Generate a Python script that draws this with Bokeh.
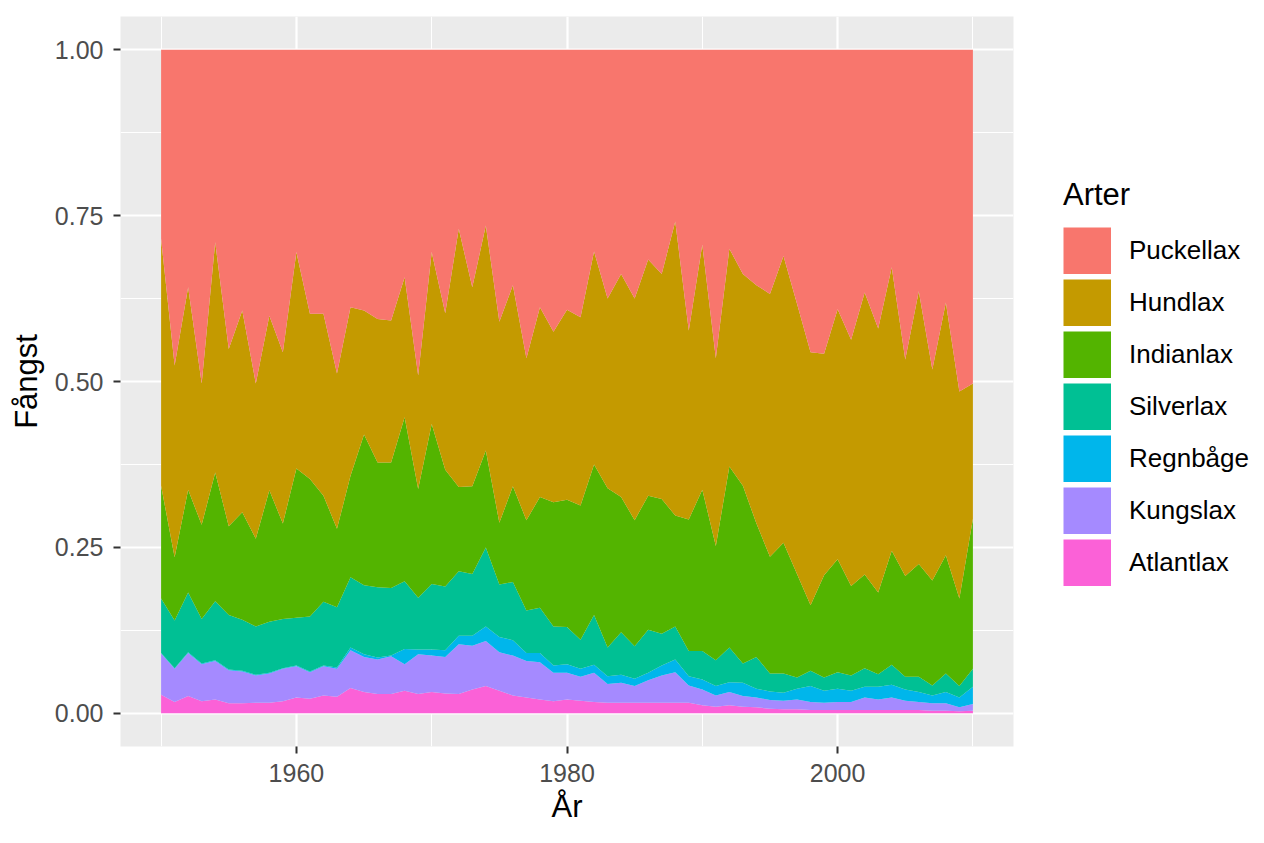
from bokeh.plotting import figure
from bokeh.models import ColumnDataSource, Range1d, FixedTicker, NumeralTickFormatter, Legend, LegendItem
from bokeh.embed import file_html
from bokeh.resources import INLINE

years = list(range(1950, 2011))

atlantlax = [.028, .017, .026, .018, .021, .015, .015, .016, .016, .018,
             .024, .022, .027, .025, .038, .032, .029, .029, .034, .029,
             .032, .030, .029, .036, .041, .034, .027, .024, .021, .018,
             .021, .019, .017, .016, .016, .016, .016, .016, .016, .016,
             .012, .010, .012, .010, .009, .007, .006, .006, .005, .005,
             .005, .005, .005, .005, .005, .005, .005, .004, .004, .003, .004]
kungslax = [.062, .050, .065, .056, .058, .050, .048, .041, .044, .049,
            .047, .040, .044, .042, .057, .053, .052, .057, .040, .060,
            .055, .055, .075, .066, .068, .058, .060, .055, .056, .043,
            .040, .036, .044, .028, .030, .025, .034, .041, .046, .026,
            .024, .017, .020, .016, .015, .013, .013, .015, .012, .011,
            .012, .012, .019, .016, .019, .014, .012, .011, .011, .006, .010]
regnbage = [.001, .001, .001, .001, .001, .001, .001, .001, .001, .001,
            .001, .001, .001, .002, .004, .004, .003, .001, .023, .007,
            .009, .010, .013, .015, .022, .023, .023, .012, .014, .011,
            .013, .012, .012, .012, .012, .011, .011, .015, .019, .014,
            .015, .014, .015, .020, .013, .013, .012, .016, .024, .018,
            .020, .017, .016, .019, .019, .017, .015, .012, .017, .015, .026]
silverlax = [.082, .072, .090, .067, .089, .082, .077, .073, .077, .074,
             .072, .083, .096, .091, .106, .104, .106, .102, .102, .078,
             .099, .096, .097, .093, .119, .079, .088, .064, .068, .059,
             .056, .044, .075, .043, .064, .049, .065, .048, .050, .038,
             .043, .039, .052, .029, .048, .027, .029, .017, .023, .020,
             .025, .023, .028, .019, .030, .019, .023, .015, .028, .017, .027]
indianlax = [.170, .095, .155, .142, .194, .134, .162, .132, .198, .144,
             .225, .207, .160, .118, .153, .227, .188, .189, .247, .164,
             .241, .176, .127, .132, .146, .093, .144, .136, .167, .187,
             .192, .202, .227, .240, .204, .190, .202, .203, .167, .198,
             .243, .172, .273, .268, .201, .176, .197, .156, .099, .154,
             .170, .135, .141, .123, .172, .152, .170, .158, .178, .132, .226]
hundlax = [.372, .289, .305, .213, .347, .267, .304, .234, .263, .258,
           .326, .249, .274, .234, .254, .187, .216, .214, .211, .171,
           .259, .236, .389, .300, .339, .303, .303, .244, .286, .257,
           .286, .284, .321, .286, .336, .334, .356, .339, .443, .285,
           .369, .283, .328, .319, .359, .396, .432, .407, .381, .334,
           .377, .371, .425, .398, .427, .326, .411, .318, .381, .312, .204]
puckellax = [.285, .476, .358, .503, .290, .451, .393, .503, .401, .456,
             .305, .398, .398, .488, .388, .393, .406, .408, .343, .491,
             .305, .397, .270, .358, .265, .410, .355, .465, .388, .425,
             .392, .403, .304, .375, .338, .375, .316, .338, .259, .423,
             .294, .465, .300, .338, .355, .368, .311, .383, .456, .458,
             .391, .437, .366, .420, .328, .467, .364, .482, .381, .515, .503]

species = ["Atlantlax", "Kungslax", "Regnbåge", "Silverlax", "Indianlax", "Hundlax", "Puckellax"]
keys = ["atl", "kung", "regn", "silv", "ind", "hund", "puck"]
series = [atlantlax, kungslax, regnbage, silverlax, indianlax, hundlax, puckellax]
colors = ["#FB61D7", "#A58AFF", "#00B6EB", "#00C094", "#53B400", "#C49A00", "#F8766D"]

x_ticks = [1960, 1980, 2000]
x_minor = [1950, 1970, 1990, 2010]
y_ticks = [0.0, 0.25, 0.5, 0.75, 1.0]
y_minor = [0.125, 0.375, 0.625, 0.875]

# position = "fill": normalise each year to 1
totals = [sum(s[i] for s in series) for i in range(len(years))]
data = {"year": years}
for k, s in zip(keys, series):
    data[k] = [v / t for v, t in zip(s, totals)]
source = ColumnDataSource(data)

FONT = "Liberation Sans"

p = figure(frame_width=893, frame_height=730, output_backend="svg", toolbar_location=None,
           x_range=Range1d(1947, 2013), y_range=Range1d(-0.05, 1.05),
           min_border_left=120, min_border_right=0, min_border_top=16, min_border_bottom=81)
p.background_fill_color = "#EBEBEB"
p.border_fill_color = "white"
p.outline_line_color = None

renderers = p.varea_stack(stackers=keys, x="year", color=colors, source=source)

# full-size square legend keys: thick line renderers whose only segment lies outside the visible ranges
key_renderers = [p.line(x=[1900, 1901], y=[-5, -5], line_width=47, line_color=c, line_cap="butt")
                 for c in colors]

for ax in (p.xaxis[0], p.yaxis[0]):
    ax.axis_line_color = None
    ax.major_tick_line_color = "#333333"
    ax.major_tick_line_width = 2
    ax.major_tick_out = 7
    ax.major_tick_in = 0
    ax.minor_tick_line_color = None
    ax.major_label_text_font = FONT
    ax.major_label_text_font_size = "25px"
    ax.major_label_text_color = "#4D4D4D"
    ax.axis_label_text_font = FONT
    ax.axis_label_text_font_size = "31px"
    ax.axis_label_text_font_style = "normal"
    ax.axis_label_text_color = "black"
    ax.major_label_standoff = 10

p.xaxis.ticker = FixedTicker(ticks=x_ticks, minor_ticks=x_minor)
p.yaxis.ticker = FixedTicker(ticks=y_ticks, minor_ticks=y_minor)
p.yaxis.formatter = NumeralTickFormatter(format="0.00")
p.xaxis.axis_label = "År"
p.yaxis.axis_label = "Fångst"
p.xaxis.axis_label_standoff = 4
p.yaxis.axis_label_standoff = 8

for g in (p.xgrid[0], p.ygrid[0]):
    g.grid_line_color = "white"
    g.grid_line_width = 2.2
    g.minor_grid_line_color = "white"
    g.minor_grid_line_width = 1.1

items = [LegendItem(label=name, renderers=[r]) for name, r in zip(species, key_renderers)][::-1]
legend = Legend(items=items, title="Arter", location=(50, 160),
                title_text_font=FONT, title_text_font_size="31px", title_text_font_style="normal",
                title_text_color="black", title_standoff=14,
                label_text_font=FONT, label_text_font_size="26px", label_text_color="black",
                glyph_width=48, glyph_height=47, label_standoff=18, spacing=5,
                padding=0, margin=0, border_line_color=None, background_fill_alpha=0)
p.add_layout(legend, "right")

open("out.html", "w").write(file_html(p, INLINE))
